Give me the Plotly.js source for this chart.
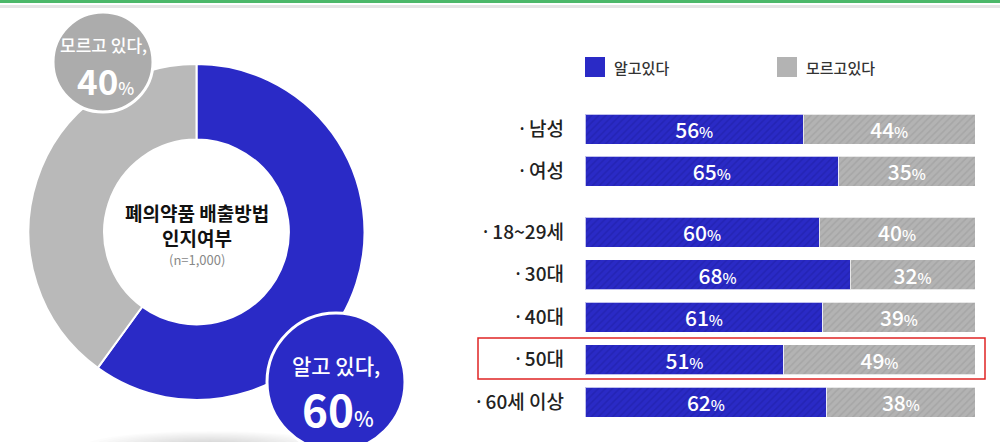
<!DOCTYPE html>
<html>
<head>
<meta charset="utf-8">
<script src="https://cdn.plot.ly/plotly-3.0.1.min.js"></script>
<style>
  html, body { margin: 0; padding: 0; background: #fff; }
  #chart { width: 1000px; height: 442px; }
</style>
</head>
<body>
<div id="chart"></div>
<script>
// 데이터
const overallLabels = ['알고 있다', '모르고 있다'];
const overallValues = [60, 40];

const genderLabels = ['남성', '여성'];
const genderKnow = [56, 65];
const genderNot = [44, 35];

const ageLabels = ['18~29세', '30대', '40대', '50대', '60세 이상'];
const ageKnow = [60, 68, 61, 51, 62];
const ageNot = [40, 32, 39, 49, 38];

const BLUE = '#2a2ac6';
const GRAY = '#b3b3b3';
const FONT = '"Noto Sans CJK KR", "Noto Sans", sans-serif';

// 픽셀 -> paper 좌표
const W = 1000, H = 442;
const px = v => v / W;
const py = v => 1 - v / H;

const pctText = (v, small) => `${v}<span style="font-size:${small}px">%</span>`;
const rowLabel = l => '<span style="font-family:Noto Sans">·</span> ' + l;

function barTrace(labels, values, color, stripe, yaxis) {
    return {
        type: 'bar',
        orientation: 'h',
        y: labels,
        x: values,
        xaxis: 'x',
        yaxis: yaxis,
        text: values.map(v => pctText(v, 15)),
        textposition: 'inside',
        insidetextanchor: 'middle',
        textangle: 0,
        constraintext: 'none',
        textfont: { color: '#ffffff', size: 21, family: FONT, weight: 500 },
        marker: {
            color: color,
            line: { color: 'rgba(255,255,255,0.7)', width: 1 },
            pattern: { shape: '/', bgcolor: color, fgcolor: stripe, size: 5, solidity: 0.3 }
        },
        hoverinfo: 'skip',
        showlegend: false
    };
}

const data = [
    {
        type: 'pie',
        labels: overallLabels,
        values: overallValues,
        hole: 0.55,
        sort: false,
        direction: 'clockwise',
        rotation: 0,
        textinfo: 'none',
        hoverinfo: 'skip',
        showlegend: false,
        marker: { colors: [BLUE, '#b9b9b9'], line: { color: '#ffffff', width: 2 } },
        domain: { x: [px(28.5), px(364.5)], y: [py(400), py(64)] }
    },
    barTrace(genderLabels, genderKnow, BLUE, '#2424b4', 'y'),
    barTrace(genderLabels, genderNot, GRAY, '#a6a6a6', 'y'),
    barTrace(ageLabels, ageKnow, BLUE, '#2424b4', 'y2'),
    barTrace(ageLabels, ageNot, GRAY, '#a6a6a6', 'y2')
];

const yCommon = {
    type: 'category',
    autorange: 'reversed',
    anchor: 'x',
    showgrid: false,
    zeroline: false,
    showline: false,
    ticks: '',
    ticklabelstandoff: 20,
    tickfont: { size: 19, color: '#222222', family: FONT, weight: 500 },
    fixedrange: true
};

// 말풍선 원 위치
const grayBubble = { cx: 103, cy: 62, r: 50 };
const blueBubble = { cx: 336, cy: 382, r: 69 };

const shapes = [
    // 상단 선
    { type: 'rect', xref: 'paper', yref: 'paper', x0: 0, x1: 1, y0: py(3), y1: 1,
      fillcolor: '#4cb86a', line: { width: 0 } },
    { type: 'rect', xref: 'paper', yref: 'paper', x0: 0, x1: 1, y0: py(8), y1: py(5),
      fillcolor: '#e6e6e6', line: { width: 0 } },
    // 범례
    { type: 'rect', xref: 'paper', yref: 'paper', x0: px(585), x1: px(605), y0: py(77), y1: py(57),
      fillcolor: BLUE, line: { width: 0 } },
    { type: 'rect', xref: 'paper', yref: 'paper', x0: px(777), x1: px(797), y0: py(77), y1: py(57),
      fillcolor: GRAY, line: { width: 0 } },
    // 50대 강조 박스
    { type: 'rect', xref: 'paper', yref: 'paper', x0: px(478), x1: px(985), y0: py(379), y1: py(338),
      fillcolor: 'rgba(0,0,0,0)', line: { color: '#e02424', width: 1.5 } }
];

// 도넛 아래 그림자 (겹친 타원으로 흐린 효과)
for (let i = 0; i < 14; i++) {
    const rx = 125 - i * 8, ry = 15 - i * 0.9;
    shapes.push({ type: 'circle', xref: 'paper', yref: 'paper', layer: 'below',
        x0: px(210 - rx), x1: px(210 + rx), y0: py(446 + ry), y1: py(446 - ry),
        fillcolor: 'rgba(0,0,0,0.013)', line: { width: 0 } });
}

[[grayBubble, '#acacac'], [blueBubble, BLUE]].forEach(([b, c]) => {
    shapes.push({ type: 'circle', xref: 'paper', yref: 'paper', layer: 'above',
        x0: px(b.cx - b.r), x1: px(b.cx + b.r), y0: py(b.cy + b.r), y1: py(b.cy - b.r),
        fillcolor: c, line: { color: '#ffffff', width: 3 } });
});

const ann = (x, y, text, size, color, opts) => Object.assign({
    xref: 'paper', yref: 'paper', x: px(x), y: py(y), text: text, showarrow: false,
    xanchor: 'center', yanchor: 'middle', borderpad: 0,
    font: { size: size, color: color, family: FONT, weight: 500 }
}, opts || {});

const annotations = [
    // 도넛 중앙
    ann(197, 212, '<b>폐의약품 배출방법</b>', 19, '#111111'),
    ann(197, 237, '<b>인지여부</b>', 19, '#111111'),
    ann(197, 259, '(n=1,000)', 13, '#888888', { font: { size: 13, color: '#888888', family: FONT } }),
    // 말풍선
    ann(grayBubble.cx, 45, overallLabels[1] + ',', 17, '#ffffff'),
    ann(grayBubble.cx + 2, 79, '<b>' + overallValues[1] + '</b><span style="font-size:17px">%</span>', 35, '#ffffff'),
    ann(blueBubble.cx, 365, overallLabels[0] + ',', 21, '#ffffff'),
    ann(blueBubble.cx + 2, 408, '<b>' + overallValues[0] + '</b><span style="font-size:21px">%</span>', 44, '#ffffff'),
    // 범례
    ann(613, 67, '알고있다', 15, '#333333', { xanchor: 'left' }),
    ann(805, 67, '모르고있다', 15, '#333333', { xanchor: 'left' })
];

const layout = {
    width: W,
    height: H,
    margin: { l: 0, r: 0, t: 0, b: 0 },
    paper_bgcolor: '#ffffff',
    plot_bgcolor: 'rgba(0,0,0,0)',
    font: { family: FONT },
    barmode: 'stack',
    bargap: 12 / 42,
    showlegend: false,
    xaxis: {
        domain: [px(585), px(975)],
        range: [0, 100],
        visible: false,
        fixedrange: true
    },
    yaxis: Object.assign({}, yCommon, {
        domain: [py(192), py(108)],
        tickvals: genderLabels,
        ticktext: genderLabels.map(rowLabel)
    }),
    yaxis2: Object.assign({}, yCommon, {
        domain: [py(423.5), py(211)],
        tickvals: ageLabels,
        ticktext: ageLabels.map(rowLabel)
    }),
    shapes: shapes,
    annotations: annotations
};

Plotly.newPlot('chart', data, layout, { displayModeBar: false, staticPlot: true });
</script>
</body>
</html>
